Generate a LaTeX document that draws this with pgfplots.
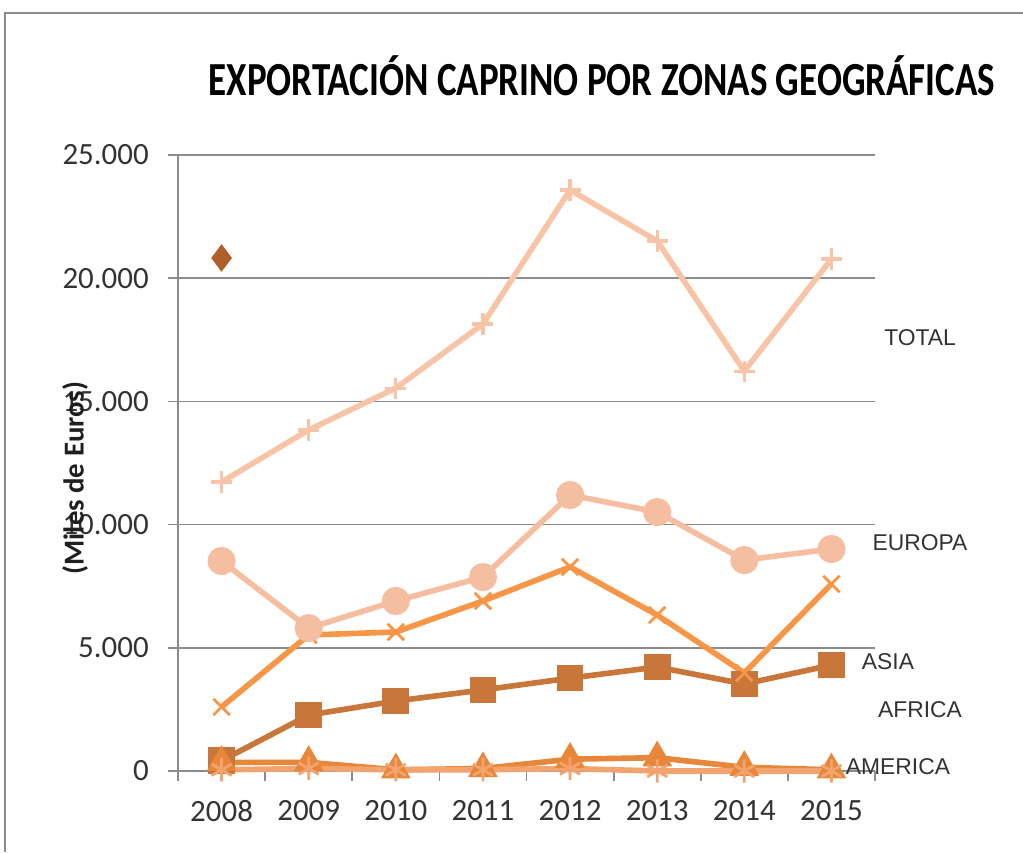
\documentclass[border=0pt]{standalone}
\usepackage{pgfplots}
\pgfplotsset{compat=1.18}
\usepackage{fontspec}
\setmainfont{Carlito}
\newfontfamily\arialf{Liberation Sans}
\definecolor{cTotal}{HTML}{F7C4A8}
\definecolor{cEuropa}{HTML}{F5BEA0}
\definecolor{cAsia}{HTML}{F79646}
\definecolor{cAfrica}{HTML}{C8763A}
\definecolor{cAmer}{HTML}{E8873A}
\definecolor{cOtro}{HTML}{F3A46E}
\definecolor{cDiam}{HTML}{AF5F27}
\definecolor{cGrid}{HTML}{8C8C8C}
\definecolor{cText}{HTML}{333333}
\begin{document}
\begin{tikzpicture}
\useasboundingbox (0,0) rectangle (10.23,8.52);
\draw[cGrid,line width=0.7pt] (0.05,0) -- (0.05,8.39) -- (10.23,8.39);
\begin{axis}[scale only axis,width=6.97cm,height=6.16cm,at={(1.78cm,0.81cm)},anchor=south west,
  xmin=-0.5,xmax=7.5,ymin=0,ymax=25000,
  xtick={0,...,7},xticklabels={2008,2009,2010,2011,2012,2013,2014,2015},
  minor xtick={-0.5,0.5,...,7.5},
  ytick={0,5000,...,25000},scaled y ticks=false,
  axis x line*=bottom,axis y line*=left,
  axis line style={cGrid,line width=0.5pt},
  tick align=outside,major tick length=2.8pt,minor tick length=2.8pt,
  every tick/.style={cGrid,line width=0.5pt},
  every major x tick/.style={draw=none},
  ymajorgrids,grid style={cGrid,line width=0.5pt},
  /pgf/number format/.cd,assume math mode=true,fixed,precision=0,1000 sep={.},/pgfplots/.cd,
  tick label style={font=\fontsize{8.8}{10}\selectfont,text=cText},
  x tick label style={yshift=-2pt},
  y tick label style={xshift=-2pt},
  clip=false]
% TOTAL
\addplot[cTotal,line width=1.6pt,mark=+,mark size=3pt,mark options={line width=0.9pt}] coordinates {
(0,11730)(1,13840)(2,15540)(3,18140)(4,23580)(5,21510)(6,16230)(7,20780)};
% AFRICA
\addplot[cAfrica,line width=1.6pt,mark=square*,mark size=3pt] coordinates {
(0,420)(1,2270)(2,2840)(3,3290)(4,3770)(5,4220)(6,3530)(7,4300)};
% ASIA
\addplot[cAsia,line width=1.6pt,mark=x,mark size=3.3pt,mark options={line width=0.8pt}] coordinates {
(0,2600)(1,5520)(2,5640)(3,6900)(4,8280)(5,6330)(6,3980)(7,7590)};
% EUROPA
\addplot[cEuropa,line width=1.6pt,mark=*,mark size=3.2pt] coordinates {
(0,8520)(1,5800)(2,6900)(3,7870)(4,11200)(5,10510)(6,8560)(7,9010)};
% AMERICA
\addplot[cAmer,line width=1.6pt,mark=triangle*,mark size=3.3pt] coordinates {
(0,350)(1,350)(2,50)(3,100)(4,480)(5,540)(6,150)(7,50)};
% otros
\addplot[cOtro,line width=1.6pt,mark=asterisk,mark size=3.3pt,mark options={line width=0.8pt}] coordinates {
(0,50)(1,100)(2,50)(3,50)(4,100)(5,0)(6,0)(7,0)};
% punto aislado
\addplot[only marks,cDiam,mark=diamond*,mark size=3.6pt] coordinates {(0,20820)};
\end{axis}
\node[font=\bfseries\fontsize{13.5}{15}\selectfont,xscale=0.78] at (6.02,7.76) {EXPORTACIÓN CAPRINO POR ZONAS GEOGRÁFICAS};
\node[font=\bfseries\fontsize{8.2}{10}\selectfont,rotate=90,text=cText!60!black] at (0.75,3.74) {(Miles de Euros)};
\begin{scope}[every node/.style={font=\arialf\fontsize{6.5}{8}\selectfont,text=cText}]
\node at (9.20,5.14) {TOTAL};
\node at (9.20,3.09) {EUROPA};
\node at (8.88,1.90) {ASIA};
\node at (9.20,1.42) {AFRICA};
\node at (8.98,0.85) {AMERICA};
\end{scope}
\end{tikzpicture}
\end{document}
